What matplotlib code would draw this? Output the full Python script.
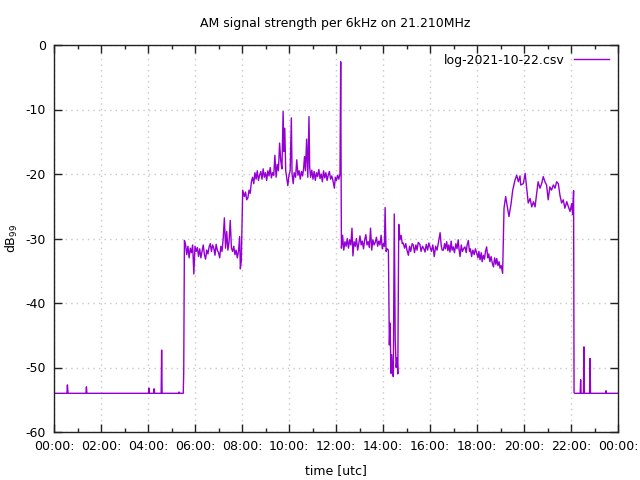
import matplotlib
matplotlib.use("Agg")
import matplotlib.pyplot as plt
from matplotlib.ticker import MultipleLocator, FixedLocator

title = "AM signal strength per 6kHz on 21.210MHz"
series_name = "log-2021-10-22.csv"
x_tick_hours = [0, 2, 4, 6, 8, 10, 12, 14, 16, 18, 20, 22, 24]
x_tick_labels = ["00:00:", "02:00:", "04:00:", "06:00:", "08:00:", "10:00:", "12:00:",
                 "14:00:", "16:00:", "18:00:", "20:00:", "22:00:", "00:00:"]
y_ticks = [0, -10, -20, -30, -40, -50, -60]

# time in hours (UTC)
t_night1 = [0, 0.55, 0.57, 0.6, 1.36, 1.38, 1.4, 4.02, 4.04, 4.06, 4.24, 4.26, 4.28,
            4.56, 4.58, 4.6, 5.3, 5.32, 5.34, 5.5, 5.52]
v_night1 = [-54, -54, -52.7, -54, -54, -53.0, -54, -54, -53.2, -54, -54, -53.3, -54,
            -54, -47.3, -54, -54, -53.8, -54, -54, -50.8]

t_morning = [5.55, 5.6, 5.65, 5.7, 5.75, 5.8, 5.85, 5.9, 5.95, 6.0, 6.05, 6.1, 6.15, 6.2,
             6.25, 6.3, 6.35, 6.4, 6.45, 6.5, 6.55, 6.6, 6.65, 6.7, 6.75, 6.8, 6.85, 6.9,
             6.95, 7.0, 7.05, 7.1, 7.15, 7.2, 7.25, 7.3, 7.35, 7.4, 7.45, 7.5, 7.55, 7.6,
             7.65, 7.7, 7.75, 7.8, 7.85, 7.9, 7.93, 7.97]
v_morning = [-30.3, -31.0, -32.5, -31.2, -33.0, -31.5, -32.2, -31.0, -35.5, -31.2, -32.0,
             -31.4, -32.8, -31.6, -33.0, -32.0, -31.0, -32.5, -33.2, -31.8, -32.4, -31.3,
             -30.8, -32.0, -31.0, -31.5, -32.6, -30.9, -31.8, -32.2, -33.0, -31.2, -32.0,
             -30.0, -26.8, -31.5, -28.9, -31.8, -30.5, -27.2, -31.5, -32.0, -31.2, -32.5,
             -31.8, -33.0, -32.0, -29.7, -34.7, -33.5]

t_day = [8.03, 8.1, 8.15, 8.2, 8.25, 8.3, 8.35, 8.4, 8.45, 8.5, 8.55, 8.6, 8.65, 8.7,
         8.75, 8.8, 8.85, 8.9, 8.95, 9.0, 9.05, 9.1, 9.15, 9.2, 9.25, 9.3, 9.35, 9.4,
         9.45, 9.5, 9.55, 9.6, 9.65, 9.7, 9.75, 9.78, 9.82, 9.86, 9.9, 9.95, 10.0, 10.05,
         10.1, 10.13, 10.18, 10.22, 10.28, 10.33, 10.38, 10.43, 10.48, 10.53, 10.58,
         10.62, 10.66, 10.7, 10.75, 10.8, 10.85, 10.88, 10.92, 10.97, 11.02, 11.07,
         11.12, 11.17, 11.22, 11.27, 11.32, 11.37, 11.42, 11.47, 11.52, 11.57, 11.62,
         11.67, 11.72, 11.77, 11.82, 11.87, 11.93, 11.97, 12.02, 12.07, 12.12, 12.17, 12.2]
v_day = [-22.5, -23.5, -22.8, -24.0, -23.7, -22.5, -23.0, -21.2, -20.5, -21.5, -19.8,
         -20.8, -19.5, -21.0, -20.2, -19.6, -20.8, -19.2, -20.5, -19.8, -21.0, -19.5,
         -20.3, -19.0, -20.6, -19.8, -20.2, -17.1, -20.5, -18.5, -19.5, -15.2, -18.0,
         -19.2, -10.3, -16.5, -12.9, -19.5, -20.5, -21.8, -20.2, -19.5, -11.3, -20.0,
         -21.5, -19.8, -20.5, -17.8, -20.2, -19.5, -20.8, -19.6, -20.3, -19.2, -17.3,
         -19.5, -14.6, -20.5, -11.1, -19.0, -20.5, -19.4, -20.8, -19.6, -21.0, -19.8,
         -20.4, -19.3, -20.7, -20.0, -21.2, -19.5, -20.6, -19.8, -21.0, -20.2, -19.6,
         -20.8, -20.3, -21.0, -22.2, -20.5, -21.0, -20.2, -20.8, -20.0, -2.6]

t_afternoon = [12.23, 12.28, 12.33, 12.38, 12.43, 12.48, 12.53, 12.58, 12.63, 12.68, 12.72,
               12.77, 12.82, 12.87, 12.92, 12.97, 13.02, 13.07, 13.12, 13.17, 13.22, 13.27,
               13.32, 13.37, 13.42, 13.47, 13.52, 13.57, 13.62, 13.67, 13.72, 13.77, 13.82,
               13.87, 13.92, 13.97, 14.02, 14.06, 14.09, 14.13, 14.18, 14.23]
v_afternoon = [-31.5, -29.5, -31.8, -30.5, -31.2, -30.0, -31.5, -30.2, -31.0, -28.4, -32.7,
               -30.5, -31.2, -30.0, -31.8, -30.8, -29.6, -31.0, -30.4, -31.6, -30.2, -29.4,
               -31.0, -30.5, -31.4, -28.4, -31.8, -30.2, -31.0, -30.6, -29.8, -31.2, -30.4,
               -31.0, -29.5, -31.6, -30.8, -31.2, -25.2, -32.0, -31.6, -31.8]

t_fade = [14.27, 14.3, 14.34, 14.37, 14.41, 14.44, 14.48, 14.52, 14.56, 14.6, 14.63, 14.67,
          14.72, 14.77, 14.82, 14.86]
v_fade = [-46.5, -43.1, -50.9, -48.0, -51.2, -51.4, -26.2, -45.7, -50.0, -48.5, -51.0, -27.8,
          -30.2, -29.5, -30.8, -30.7]

t_late = [14.92, 14.97, 15.02, 15.08, 15.13, 15.18, 15.24, 15.29, 15.34, 15.4, 15.45, 15.5,
          15.57, 15.62, 15.68, 15.74, 15.79, 15.84, 15.9, 15.95, 16.0, 16.06, 16.12, 16.18,
          16.24, 16.3, 16.36, 16.43, 16.48, 16.52, 16.57, 16.62, 16.66, 16.71, 16.76, 16.8,
          16.85, 16.9, 16.94, 16.99, 17.04, 17.1, 17.15, 17.2, 17.24, 17.28, 17.33, 17.38,
          17.44, 17.49, 17.54, 17.58, 17.63, 17.68, 17.72, 17.77, 17.82, 17.88, 17.93, 17.99,
          18.04, 18.08, 18.13, 18.18, 18.22, 18.27, 18.32, 18.36, 18.41, 18.46, 18.5, 18.55,
          18.6, 18.65, 18.7, 18.75, 18.8, 18.84, 18.89, 18.94, 18.98, 19.03, 19.09]
v_late = [-31.5, -30.8, -31.8, -32.6, -31.2, -32.0, -30.8, -31.0, -32.2, -31.0, -31.8, -30.6,
          -30.9, -32.0, -31.2, -31.6, -32.1, -30.9, -31.8, -30.7, -31.3, -32.0, -31.0, -32.8,
          -31.2, -31.8, -30.6, -29.1, -31.2, -31.8, -31.8, -30.8, -31.6, -30.5, -31.9, -31.0,
          -32.1, -30.4, -31.8, -31.3, -32.2, -30.8, -31.6, -30.2, -31.8, -32.8, -31.0, -32.0,
          -31.5, -31.3, -32.2, -31.0, -30.3, -32.0, -31.6, -32.8, -31.8, -32.5, -31.6, -32.3,
          -33.0, -32.0, -33.3, -32.2, -33.6, -32.6, -33.2, -32.0, -31.3, -33.0, -32.4, -33.6,
          -32.8, -33.8, -34.4, -33.0, -34.0, -33.1, -34.2, -33.6, -34.6, -34.2, -35.4]

t_evening = [19.15, 19.22, 19.29, 19.36, 19.45, 19.52, 19.62, 19.69, 19.76, 19.83, 19.86,
             19.97, 20.05, 20.11, 20.18, 20.26, 20.33, 20.4, 20.47, 20.54, 20.6, 20.68,
             20.75, 20.82, 20.89, 20.96, 21.03, 21.1, 21.17, 21.25, 21.32, 21.39, 21.46,
             21.53, 21.6, 21.67, 21.74, 21.82, 21.89, 21.96, 22.03, 22.07, 22.11]
v_evening = [-25.3, -23.5, -25.1, -26.6, -24.6, -22.5, -20.9, -20.2, -21.2, -20.3, -21.7,
             -21.5, -19.9, -22.0, -24.5, -23.8, -25.1, -24.3, -25.1, -23.0, -21.2, -22.2,
             -21.5, -20.4, -21.2, -21.7, -24.0, -22.0, -22.5, -21.7, -22.2, -21.2, -21.5,
             -23.3, -24.5, -24.0, -25.3, -24.3, -25.1, -25.8, -24.6, -26.3, -22.6]

t_night2 = [22.13, 22.15, 22.39, 22.41, 22.43, 22.53, 22.55, 22.57, 22.79, 22.81, 22.83,
            23.47, 23.49, 23.51, 24.0]
v_night2 = [-53.9, -54, -54, -51.9, -54, -54, -46.8, -54, -54, -48.6, -54,
            -54, -53.6, -54, -54]

hours = t_night1 + t_morning + t_day + t_afternoon + t_fade + t_late + t_evening + t_night2
dbs = v_night1 + v_morning + v_day + v_afternoon + v_fade + v_late + v_evening + v_night2

plt.rcParams['font.family'] = ['DejaVu Sans']
fig = plt.figure(figsize=(6.4, 4.8), dpi=100)
ax = fig.add_axes([54/640, 1 - 432/480, (618 - 54)/640, (432 - 45)/480])
ax.plot(hours, dbs, color='#9400D3', lw=1.0, label=series_name)

ax.set_xlim(0, 24)
ax.set_ylim(-60, 0)
ax.xaxis.set_major_locator(FixedLocator(x_tick_hours))
ax.set_xticklabels(x_tick_labels)
ax.xaxis.set_minor_locator(MultipleLocator(1))
ax.set_yticks(y_ticks)
ax.set_yticklabels([str(v) for v in y_ticks])
ax.tick_params(which='major', direction='in', length=6, width=1, top=True, right=True,
               labelsize=9, pad=6, color='#222222')
ax.tick_params(which='minor', direction='in', length=3, width=1, top=True, right=True,
               color='#222222')
ax.grid(True, which='major', color='#c8c8c8', linestyle=(0, (1, 3)), lw=1.0)
for s in ax.spines.values():
    s.set_linewidth(1.0)
    s.set_color('#222222')

fig.text(335/640, 1 - 23/480, title, ha='center', va='center', fontsize=9)
ax.set_xlabel("time [utc]", fontsize=9, labelpad=8)
ax.set_ylabel("dB$_{99}$", fontsize=9, labelpad=4)

leg = ax.legend(loc='upper right', frameon=False, markerfirst=False, fontsize=9,
                handlelength=2.8, borderaxespad=0.3)

fig.savefig("out.png", dpi=100)
